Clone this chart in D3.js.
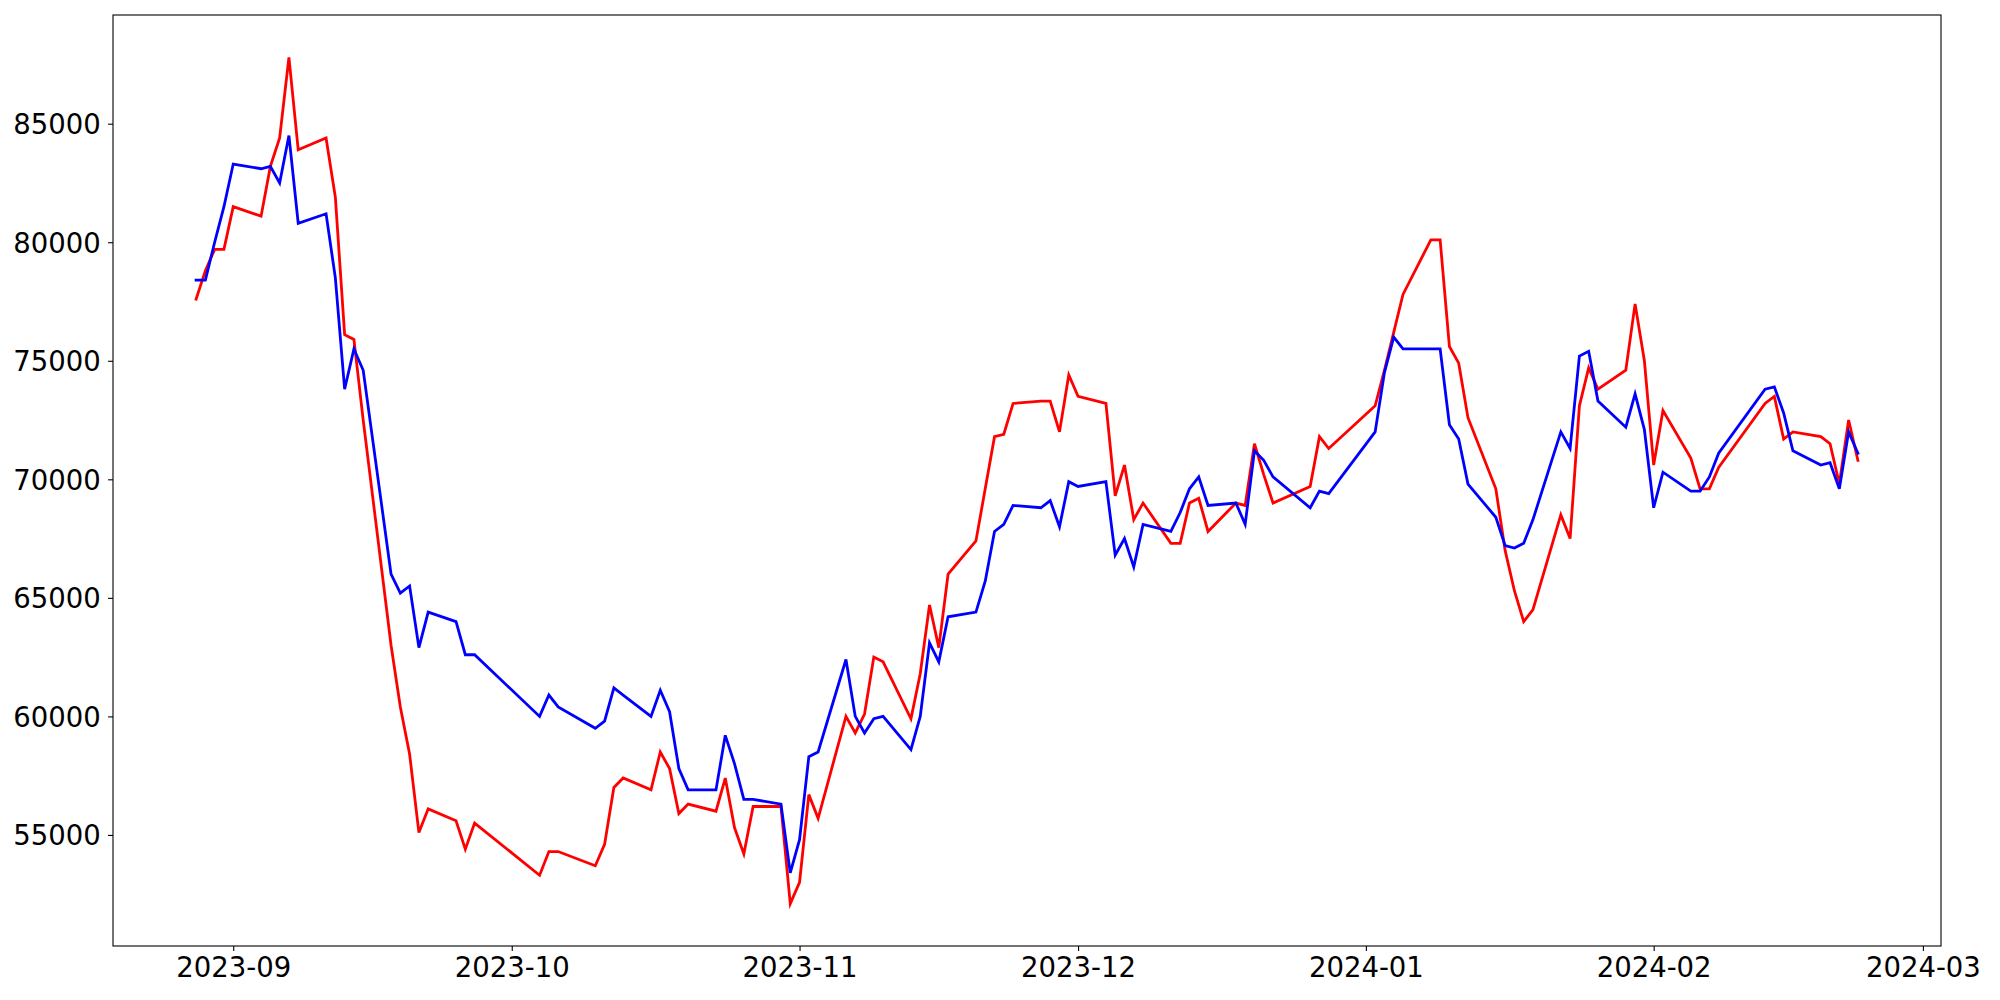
<!DOCTYPE html>
<html>
<head>
<meta charset="utf-8">
<script src="https://cdn.jsdelivr.net/npm/d3@7"></script>
<style>
  html, body { margin: 0; padding: 0; background: #ffffff; }
  svg { display: block; }
  text { font-family: "DejaVu Sans", sans-serif; }
</style>
</head>
<body>
<script>
// ---- data ----
const dates = [
  "2023-08-28","2023-08-29","2023-08-30","2023-08-31","2023-09-01",
  "2023-09-04","2023-09-05","2023-09-06","2023-09-07","2023-09-08",
  "2023-09-11","2023-09-12","2023-09-13","2023-09-14","2023-09-15",
  "2023-09-18","2023-09-19","2023-09-20","2023-09-21","2023-09-22",
  "2023-09-25","2023-09-26","2023-09-27",
  "2023-10-04","2023-10-05","2023-10-06",
  "2023-10-10","2023-10-11","2023-10-12","2023-10-13",
  "2023-10-16","2023-10-17","2023-10-18","2023-10-19","2023-10-20",
  "2023-10-23","2023-10-24","2023-10-25","2023-10-26","2023-10-27",
  "2023-10-30","2023-10-31","2023-11-01","2023-11-02","2023-11-03",
  "2023-11-06","2023-11-07","2023-11-08","2023-11-09","2023-11-10",
  "2023-11-13","2023-11-14","2023-11-15","2023-11-16","2023-11-17",
  "2023-11-20","2023-11-21","2023-11-22","2023-11-23","2023-11-24",
  "2023-11-27","2023-11-28","2023-11-29","2023-11-30","2023-12-01",
  "2023-12-04","2023-12-05","2023-12-06","2023-12-07","2023-12-08",
  "2023-12-11","2023-12-12","2023-12-13","2023-12-14","2023-12-15",
  "2023-12-18","2023-12-19","2023-12-20","2023-12-21","2023-12-22",
  "2023-12-26","2023-12-27","2023-12-28",
  "2024-01-02","2024-01-03","2024-01-04","2024-01-05",
  "2024-01-08","2024-01-09","2024-01-10","2024-01-11","2024-01-12",
  "2024-01-15","2024-01-16","2024-01-17","2024-01-18","2024-01-19",
  "2024-01-22","2024-01-23","2024-01-24","2024-01-25","2024-01-26",
  "2024-01-29","2024-01-30","2024-01-31","2024-02-01","2024-02-02",
  "2024-02-05","2024-02-06","2024-02-07","2024-02-08",
  "2024-02-13","2024-02-14","2024-02-15","2024-02-16",
  "2024-02-19","2024-02-20","2024-02-21","2024-02-22","2024-02-23"
];

const redValues = [
  77600,78800,79700,79700,81500,
  81100,83200,84400,87800,83900,
  84400,81900,76100,75900,72500,
  63000,60400,58400,55100,56100,
  55600,54400,55500,
  53300,54300,54300,
  53700,54600,57000,57400,
  56900,58500,57800,55900,56300,
  56000,57400,55300,54200,56200,
  56200,52100,53000,56700,55700,
  60000,59300,60100,62500,62300,
  59900,61800,64700,62900,66000,
  67400,69600,71800,71900,73200,
  73300,73300,72000,74400,73500,
  73200,69300,70600,68300,69000,
  67300,67300,69000,69200,67800,
  69000,68900,71500,70200,69000,
  69700,71800,71300,
  73100,74600,76200,77800,
  80100,80100,75600,74900,72600,
  69600,67000,65300,64000,64500,
  68500,67500,73100,74700,73800,
  74600,77400,75000,70600,72900,
  70900,69600,69600,70500,
  73200,73500,71700,72000,
  71800,71500,69800,72500,70800
];

const blueValues = [
  78400,78400,80000,81500,83300,
  83100,83200,82500,84500,80800,
  81200,78500,73800,75500,74600,
  66000,65200,65500,62900,64400,
  64000,62600,62600,
  60000,60900,60400,
  59500,59800,61200,60900,
  60000,61100,60200,57800,56900,
  56900,59200,58000,56500,56500,
  56300,53400,54800,58300,58500,
  62400,60000,59300,59900,60000,
  58600,60000,63100,62300,64200,
  64400,65700,67800,68100,68900,
  68800,69100,68000,69900,69700,
  69900,66800,67500,66300,68100,
  67800,68600,69600,70100,68900,
  69000,68100,71200,70800,70100,
  68800,69500,69400,
  72000,74500,76000,75500,
  75500,75500,72300,71700,69800,
  68400,67200,67100,67300,68300,
  72000,71300,75200,75400,73300,
  72200,73600,72100,68800,70300,
  69500,69500,70100,71100,
  73800,73900,72800,71200,
  70600,70700,69600,72000,71100
];

const yTickValues = [55000, 60000, 65000, 70000, 75000, 80000, 85000];
const xTickLabels = ["2023-09","2023-10","2023-11","2023-12","2024-01","2024-02","2024-03"];

// ---- layout ----
const W = 2000, H = 1000;
const plotLeft = 113, plotRight = 1941, plotTop = 15, plotBottom = 946;
const fontSize = 27.5;

const parseDay = d3.utcParse("%Y-%m-%d");
const parsed = dates.map(parseDay);
const redData = parsed.map((d, i) => ({ date: d, value: redValues[i] }));
const blueData = parsed.map((d, i) => ({ date: d, value: blueValues[i] }));

// matplotlib-like 5% margins
const [xMin, xMax] = d3.extent(parsed);
const xPad = (xMax - xMin) * 0.05;
const allVals = redValues.concat(blueValues);
const [vMin, vMax] = d3.extent(allVals);
const yPad = (vMax - vMin) * 0.05;

const xScale = d3.scaleUtc()
  .domain([new Date(+xMin - xPad), new Date(+xMax + xPad)])
  .range([plotLeft, plotRight]);
const yScale = d3.scaleLinear()
  .domain([vMin - yPad, vMax + yPad])
  .range([plotBottom, plotTop]);

const svg = d3.select("body").append("svg")
  .attr("width", W).attr("height", H)
  .style("background", "#ffffff");

svg.append("clipPath").attr("id", "plotclip")
  .append("rect").attr("x", plotLeft).attr("y", plotTop)
  .attr("width", plotRight - plotLeft).attr("height", plotBottom - plotTop);

const lineGen = d3.line().x(d => xScale(d.date)).y(d => yScale(d.value));

const plot = svg.append("g").attr("clip-path", "url(#plotclip)");
plot.append("path").datum(redData)
  .attr("fill", "none").attr("stroke", "#ff0000")
  .attr("stroke-width", 2.8).attr("stroke-linejoin", "miter")
  .attr("stroke-linecap", "square")
  .attr("d", lineGen);
plot.append("path").datum(blueData)
  .attr("fill", "none").attr("stroke", "#0000ff")
  .attr("stroke-width", 2.8).attr("stroke-linejoin", "miter")
  .attr("stroke-linecap", "square")
  .attr("d", lineGen);

// axes
const xTicks = xTickLabels.map(s => d3.utcParse("%Y-%m")(s));
const xAxis = d3.axisBottom(xScale)
  .tickValues(xTicks)
  .tickFormat(d3.utcFormat("%Y-%m"))
  .tickSize(4.9).tickSizeOuter(0).tickPadding(6.5);
const gx = svg.append("g").attr("transform", `translate(0,${plotBottom})`).call(xAxis);

const yAxis = d3.axisLeft(yScale)
  .tickValues(yTickValues)
  .tickFormat(d3.format("d"))
  .tickSize(4.9).tickSizeOuter(0).tickPadding(7.4);
const gy = svg.append("g").attr("transform", `translate(${plotLeft},0)`).call(yAxis);

[gx, gy].forEach(g => {
  g.select(".domain").remove();
  g.selectAll(".tick line").attr("stroke", "#000").attr("stroke-width", 1.1);
  g.selectAll(".tick text")
    .attr("fill", "#000")
    .style("font-family", '"DejaVu Sans", sans-serif')
    .style("font-size", fontSize + "px");
});
gy.selectAll(".tick text").attr("dy", "0.36em");

// frame (spines)
svg.append("rect")
  .attr("x", plotLeft).attr("y", plotTop)
  .attr("width", plotRight - plotLeft).attr("height", plotBottom - plotTop)
  .attr("fill", "none").attr("stroke", "#000").attr("stroke-width", 1.1);
</script>
</body>
</html>
